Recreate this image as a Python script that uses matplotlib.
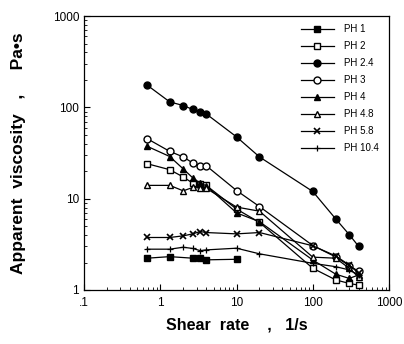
import matplotlib
matplotlib.use("Agg")
import matplotlib.pyplot as plt
from matplotlib.ticker import FixedLocator, NullFormatter, LogLocator

plt.rcParams['font.family'] = ['Liberation Sans', 'DejaVu Sans']

shear = [0.67, 1.33, 2, 2.67, 3.33, 4, 10, 20, 100, 200, 300, 400]

ph1_x = [0.67, 1.33, 2.67, 3.33, 4, 10]
ph1 = [2.23, 2.32, 2.23, 2.23, 2.14, 2.17]
ph2 = [24.2, 20.8, 17.3, 14.8, 14.5, 14.0, 7.7, 5.5, 1.73, 1.29, 1.18, 1.13]
ph24 = [176, 115, 105, 95, 89, 85, 47.6, 28.7, 12.0, 6.0, 4.05, 3.0]
ph3 = [45.6, 33, 28.7, 24.6, 23, 23, 12.3, 8.2, 3.07, 2.3, 1.85, 1.6]
ph4 = [37.6, 29, 21.2, 16.9, 14.8, 13.9, 7.0, 5.6, 2.13, 1.49, 1.34, 1.46]
ph48 = [14.0, 14.0, 12.2, 13.3, 13.1, 13.0, 8.1, 7.3, 2.29, 2.23, 1.73, 1.38]
ph58 = [3.76, 3.76, 3.92, 4.12, 4.37, 4.26, 4.12, 4.26, 3.05, 2.36, 1.88, 1.52]
ph104 = [2.8, 2.8, 2.94, 2.85, 2.7, 2.75, 2.87, 2.49, 1.96, 1.8, 1.66, 1.46]

labels = ['PH 1', 'PH 2', 'PH 2.4', 'PH 3', 'PH 4', 'PH 4.8', 'PH 5.8', 'PH 10.4']

fig = plt.figure(figsize=(4.04, 3.44), dpi=100)
ax = fig.add_axes([0.208, 0.157, 0.755, 0.796])

ms = 5
kw = dict(color='black', lw=0.9)
ax.plot(ph1_x, ph1, marker='s', ms=ms, mfc='black', mec='black', label=labels[0], **kw)
ax.plot(shear, ph2, marker='s', ms=ms, mfc='white', mec='black', label=labels[1], **kw)
ax.plot(shear, ph24, marker='o', ms=ms, mfc='black', mec='black', label=labels[2], **kw)
ax.plot(shear, ph3, marker='o', ms=ms, mfc='white', mec='black', label=labels[3], **kw)
ax.plot(shear, ph4, marker='^', ms=ms, mfc='black', mec='black', label=labels[4], **kw)
ax.plot(shear, ph48, marker='^', ms=ms, mfc='white', mec='black', label=labels[5], **kw)
ax.plot(shear, ph58, marker='x', ms=4, mew=1.2, mec='black', label=labels[6], **kw)
ax.plot(shear, ph104, marker='+', ms=5, mew=0.9, mec='black', label=labels[7], **kw)

ax.set_xscale('log')
ax.set_yscale('log')
ax.set_xlim(0.1, 1000)
ax.set_ylim(1, 1000)

xt = [0.1, 1, 10, 100, 1000]
ax.xaxis.set_major_locator(FixedLocator(xt))
ax.set_xticklabels(['.1', '1', '10', '100', '1000'])
yt = [1, 10, 100, 1000]
ax.yaxis.set_major_locator(FixedLocator(yt))
ax.set_yticklabels(['1', '10', '100', '1000'])
for a in (ax.xaxis, ax.yaxis):
    a.set_minor_locator(LogLocator(base=10, subs=range(2, 10)))
    a.set_minor_formatter(NullFormatter())
ax.tick_params(which='both', direction='in', labelsize=8.5, color='black')
ax.tick_params(which='major', length=4, width=0.8)
ax.tick_params(which='minor', length=2, width=0.6)
ax.tick_params(axis='x', pad=5)
for s in ax.spines.values():
    s.set_linewidth(0.9)

ax.set_xlabel('Shear  rate    ,   1/s', fontsize=11.5, fontweight='bold', labelpad=6)
ax.set_ylabel('Apparent  viscosity   ,     Pa\u2022s', fontsize=12.5, fontweight='bold', labelpad=19)

ax.legend(loc='upper right', bbox_to_anchor=(0.99, 0.995), frameon=False, fontsize=7,
          handlelength=3.4, labelspacing=0.72, handletextpad=1.1, borderaxespad=0.3)

fig.savefig('out.png', dpi=100)
